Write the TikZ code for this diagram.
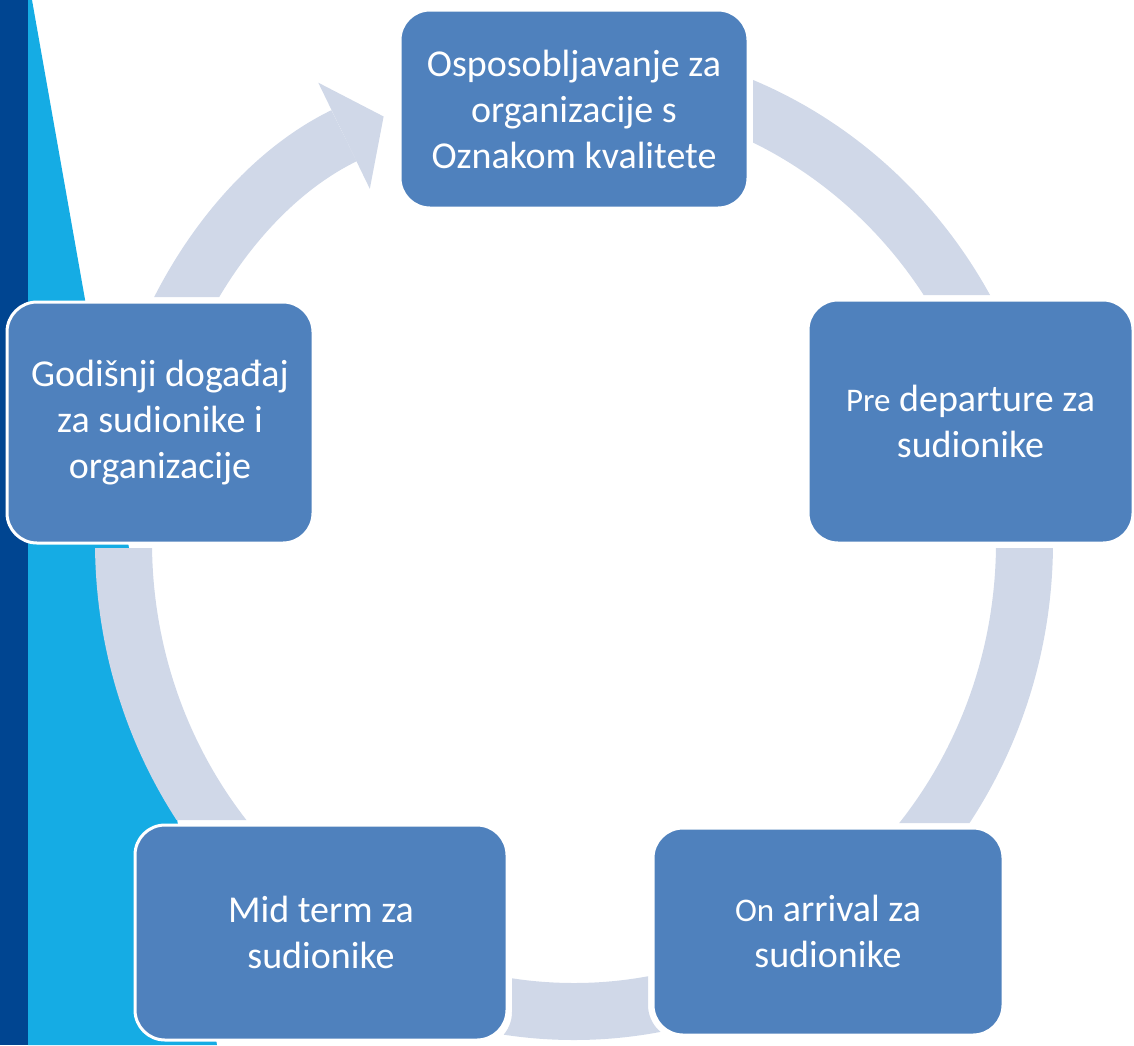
\documentclass[tikz,border=0pt]{standalone}
\usepackage{fontspec}
\setmainfont{Carlito}
\usepackage{tikz}
\usetikzlibrary{arrows.meta}

\definecolor{stripdark}{RGB}{0,69,145}
\definecolor{stripcyan}{RGB}{21,172,228}
\definecolor{boxblue}{RGB}{79,129,189}
\definecolor{ringgrey}{RGB}{208,216,232}

\newcommand{\smallrun}[1]{{\fontsize{16.5}{23}\selectfont #1}}

\begin{document}
\begin{tikzpicture}[x=0.5pt, y=-0.5pt,
			stage/.style={rectangle, rounded corners=15pt, fill=boxblue, draw=white,
				line width=1.5pt, text=white, align=center, inner sep=0pt,
				font=\fontsize{19}{23}\selectfont},
			ring/.style={draw=ringgrey, line width=28.5pt,
				-{Triangle[width=59pt, length=22pt, line width=0pt]}}]
		\useasboundingbox (0,0) rectangle (1134,1045);
		% side strips
		\fill[stripdark] (0,0) rectangle (28,1045);
		\fill[stripcyan] (28,0) -- (32,0) -- (217,1045) -- (28,1045) -- cycle;
		% cycle ring, cut out round the boxes
		\begin{scope}
			\clip (0,0) -- (1134,0) -- (1134,1045) -- (0,1045) -- cycle
				[rounded corners=17.5pt]
				(395,5) -- (395,213) -- (753,213) -- (753,5) -- cycle
				(803,295) -- (803,548) -- (1140,548) -- (1140,295) -- cycle
				(648,823) -- (648,1040) -- (1008,1040) -- (1008,823) -- cycle
				(130,820) -- (130,1047) -- (512,1047) -- (512,820) -- cycle
				(2,297) -- (2,548) -- (318,548) -- (318,297) -- cycle;
			\draw[ring] (574,72.5) arc[start angle=90, end angle=-245,
				x radius=225.25pt, y radius=234.75pt];
		\end{scope}
		% stages
		\node[stage, minimum width=174pt, minimum height=99pt] (training) at (574,109)
			{Osposobljavanje za\\organizacije s\\Oznakom kvalitete};
		\node[stage, minimum width=162.5pt, minimum height=121.5pt] (departure) at (970.5,421.5)
			{\smallrun{Pre} departure za\\sudionike};
		\node[stage, minimum width=175pt, minimum height=103.5pt] (arrival) at (828,931.5)
			{\smallrun{On} arrival za\\sudionike};
		\node[stage, minimum width=186pt, minimum height=107.5pt] (midterm) at (321,932.5)
			{Mid term za\\sudionike};
		\node[stage, minimum width=153pt, minimum height=120.5pt] (annual) at (160,422.5)
			{Godišnji događaj\\za sudionike i\\organizacije};
\end{tikzpicture}
\end{document}
